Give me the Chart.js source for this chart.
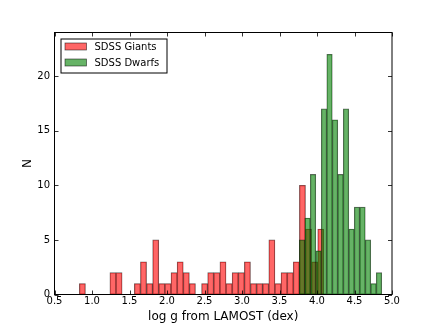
<!DOCTYPE html>
<html lang="en">
<head>
  <meta charset="UTF-8" />
  <title>log g histogram</title>
  <style>
    body {
      margin: 0;
      padding: 0;
      background: white;
    }
    canvas {
      display: block;
    }
  </style>
</head>
<body>

<canvas id="histChart" width="436" height="327"></canvas>

<script src="https://cdn.jsdelivr.net/npm/chart.js"></script>
<script>
// histogram bins (log g from LAMOST) and counts
const giantsBinStart = 0.831;
const giantsBinWidth = 0.0815;
const giantsCounts = [
  1, 0, 0, 0, 0, 2, 2, 0, 0, 1,
  3, 1, 5, 1, 1, 2, 3, 2, 1, 0,
  1, 2, 2, 3, 1, 2, 2, 3, 1, 1,
  1, 5, 1, 2, 2, 3, 10, 6, 3, 6
];

const dwarfsBinStart = 3.764;
const dwarfsBinWidth = 0.0733;
const dwarfsCounts = [5, 7, 11, 4, 17, 22, 16, 11, 17, 6, 8, 8, 5, 1, 2];

const xTicks = [0.5, 1.0, 1.5, 2.0, 2.5, 3.0, 3.5, 4.0, 4.5, 5.0];
const yTicks = [0, 5, 10, 15, 20];

const toPoints = (counts, start, width) =>
  counts.map((n, i) => ({ x: start + width * (i + 0.5), y: n }));

Chart.defaults.font.family = "'DejaVu Sans', sans-serif";
Chart.defaults.font.size = 10;
Chart.defaults.color = '#000';

// matplotlib-style frame: inward ticks on all sides plus a boxed legend
const framePlugin = {
  id: 'frame',
  afterDatasetsDraw(chart) {
    const { ctx, chartArea: a, scales } = chart;
    ctx.save();
    ctx.strokeStyle = '#000';
    ctx.lineWidth = 0.8;
    const line = (x1, y1, x2, y2) => {
      ctx.beginPath();
      ctx.moveTo(x1, y1);
      ctx.lineTo(x2, y2);
      ctx.stroke();
    };
    xTicks.forEach(v => {
      const px = Math.round(scales.x.getPixelForValue(v)) + 0.5;
      line(px, a.bottom, px, a.bottom - 4);
      line(px, a.top, px, a.top + 4);
    });
    yTicks.forEach(v => {
      const py = Math.round(scales.y.getPixelForValue(v)) + 0.5;
      line(a.left, py, a.left + 4, py);
      line(a.right, py, a.right - 4, py);
    });
    ctx.lineWidth = 1;
    ctx.strokeRect(a.left, a.top, a.right - a.left, a.bottom - a.top);

    // legend
    const lx = a.left + 6, ly = a.top + 6;
    ctx.fillStyle = '#fff';
    ctx.fillRect(lx, ly, 106, 34);
    ctx.strokeStyle = '#000';
    ctx.strokeRect(lx + 0.5, ly + 0.5, 106, 34);
    ctx.font = "10px 'DejaVu Sans', sans-serif";
    ctx.textBaseline = 'middle';
    chart.data.datasets.forEach((ds, i) => {
      const ry = ly + 4.5 + 16 * i;
      ctx.fillStyle = '#fff';
      ctx.fillRect(lx + 4.5, ry, 21.5, 7);
      ctx.fillStyle = ds.backgroundColor;
      ctx.fillRect(lx + 4.5, ry, 21.5, 7);
      ctx.strokeStyle = ds.borderColor;
      ctx.lineWidth = 0.8;
      ctx.strokeRect(lx + 4.5, ry, 21.5, 7);
      ctx.fillStyle = '#000';
      ctx.fillText(ds.label, lx + 34, ry + 4);
    });
    ctx.restore();
  }
};

const ctx = document.getElementById('histChart').getContext('2d');

new Chart(ctx, {
  type: 'bar',
  data: {
    datasets: [
      {
        label: 'SDSS Giants',
        data: toPoints(giantsCounts, giantsBinStart, giantsBinWidth),
        xAxisID: 'x',
        backgroundColor: 'rgba(255, 0, 0, 0.6)',
        borderColor: 'rgba(0, 0, 0, 0.6)',
        borderWidth: 0.6,
        borderSkipped: false,
        barPercentage: 1,
        categoryPercentage: 1,
        grouped: false,
        order: 1
      },
      {
        label: 'SDSS Dwarfs',
        data: toPoints(dwarfsCounts, dwarfsBinStart, dwarfsBinWidth),
        xAxisID: 'x2',
        backgroundColor: 'rgba(0, 128, 0, 0.6)',
        borderColor: 'rgba(0, 0, 0, 0.6)',
        borderWidth: 0.6,
        borderSkipped: false,
        barPercentage: 1,
        categoryPercentage: 1,
        grouped: false,
        order: 0
      }
    ]
  },
  options: {
    responsive: false,
    animation: false,
    layout: { padding: { top: 32.5, right: 44, left: 0, bottom: 0 } },
    plugins: {
      legend: { display: false },
      tooltip: { enabled: false }
    },
    scales: {
      x: {
        type: 'linear',
        min: 0.5,
        max: 5.0,
        offset: false,
        afterFit: s => { s.height = 32.5; },
        afterBuildTicks: s => { s.ticks = xTicks.map(v => ({ value: v })); },
        ticks: {
          padding: 1,
          maxRotation: 0,
          autoSkip: false,
          callback: v => Number(v).toFixed(1)
        },
        grid: { display: false, drawTicks: false, offset: false },
        border: { display: false },
        title: {
          display: true,
          text: 'log g from LAMOST (dex)',
          font: { size: 12 },
          padding: { top: 0, bottom: 3 }
        }
      },
      x2: {
        type: 'linear',
        min: 0.5,
        max: 5.0,
        offset: false,
        grid: { offset: false },
        display: false
      },
      y: {
        min: 0,
        max: 24,
        afterFit: s => { s.width = 54.5; },
        afterBuildTicks: s => { s.ticks = yTicks.map(v => ({ value: v })); },
        ticks: { padding: 4.5 },
        grid: { display: false, drawTicks: false },
        border: { display: false },
        title: {
          display: true,
          text: 'N',
          font: { size: 12 },
          padding: { top: 20.8, bottom: 0 }
        }
      }
    }
  },
  plugins: [framePlugin]
});
</script>
</body>
</html>
